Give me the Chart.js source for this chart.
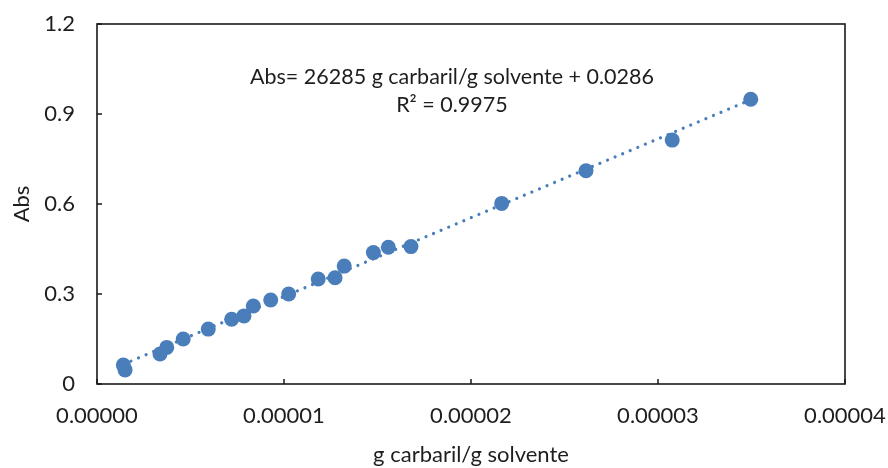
<!DOCTYPE html>
<html>
<head>
<meta charset="utf-8">
<script src="https://cdn.jsdelivr.net/npm/chart.js@4.4.1/dist/chart.umd.min.js"></script>
<style>
  html, body { margin: 0; padding: 0; background: #fff; }
  #wrap { width: 888px; height: 468px; }
</style>
</head>
<body>
<div id="wrap"><canvas id="chart" width="888" height="468"></canvas></div>
<script>
// Dane pomiarów (g carbaril / g solvente vs Abs)
const concentrations = [
  1.41e-6, 1.50e-6, 3.37e-6, 3.73e-6, 4.61e-6, 5.95e-6, 7.20e-6, 7.86e-6,
  8.36e-6, 9.29e-6, 1.025e-5, 1.183e-5, 1.273e-5, 1.322e-5, 1.478e-5,
  1.558e-5, 1.679e-5, 2.164e-5, 2.615e-5, 3.076e-5, 3.496e-5
];
const absorbances = [
  0.063, 0.047, 0.100, 0.122, 0.150, 0.183, 0.216, 0.227,
  0.260, 0.280, 0.300, 0.350, 0.354, 0.393, 0.438,
  0.456, 0.458, 0.602, 0.711, 0.813, 0.949
];
const xTicks = [0, 0.00001, 0.00002, 0.00003, 0.00004];
const yTicks = [0, 0.3, 0.6, 0.9, 1.2];

// Linia trendu
const slope = 26285;
const intercept = 0.0286;
const equationLines = ['Abs= 26285 g carbaril/g solvente + 0.0286', 'R\u00B2 = 0.9975'];

const BLUE = '#4a7ebb';
const TEXT = '#1e1e1e';
const FONT = 'Lato, "Open Sans", sans-serif';

const xMin = Math.min(...concentrations);
const xMax = Math.max(...concentrations);
const trend = [
  { x: xMin, y: slope * xMin + intercept },
  { x: xMax, y: slope * xMax + intercept }
];

// Ramka, znaczniki osi i równanie
const framePlugin = {
  id: 'frame',
  afterDraw(chart) {
    const { ctx, chartArea: a, scales } = chart;
    ctx.save();
    ctx.strokeStyle = '#1a1a1a';
    ctx.lineWidth = 1.6;
    ctx.strokeRect(a.left, a.top, a.right - a.left, a.bottom - a.top);
    ctx.lineWidth = 1.5;
    ctx.beginPath();
    xTicks.forEach(v => {
      const px = scales.x.getPixelForValue(v);
      ctx.moveTo(px, a.bottom);
      ctx.lineTo(px, a.bottom - 5);
    });
    yTicks.forEach(v => {
      const py = scales.y.getPixelForValue(v);
      ctx.moveTo(a.left, py);
      ctx.lineTo(a.left + 5, py);
    });
    ctx.stroke();

    ctx.fillStyle = TEXT;
    ctx.font = '21.5px ' + FONT;
    ctx.textAlign = 'center';
    ctx.textBaseline = 'middle';
    const cx = scales.x.getPixelForValue(0.00001898);
    ctx.fillText(equationLines[0], cx, scales.y.getPixelForValue(1.023));
    ctx.fillText(equationLines[1], cx, scales.y.getPixelForValue(0.93));
    ctx.restore();
  }
};

new Chart(document.getElementById('chart').getContext('2d'), {
  type: 'scatter',
  data: {
    datasets: [
      {
        label: 'Abs',
        data: concentrations.map((c, i) => ({ x: c, y: absorbances[i] })),
        backgroundColor: BLUE,
        borderColor: BLUE,
        borderWidth: 0,
        pointRadius: 7.5,
        pointHoverRadius: 7.5,
        order: 2
      },
      {
        label: 'Trend',
        type: 'line',
        data: trend,
        showLine: true,
        borderColor: BLUE,
        borderWidth: 3.2,
        borderDash: [0.01, 8.2],
        borderCapStyle: 'round',
        pointRadius: 0,
        fill: false,
        order: 1
      }
    ]
  },
  options: {
    responsive: false,
    animation: false,
    layout: { padding: { top: 24, right: 43, left: 0, bottom: 0 } },
    plugins: {
      legend: { display: false },
      tooltip: { enabled: false }
    },
    scales: {
      x: {
        type: 'linear',
        min: 0,
        max: 0.00004,
        afterFit(scale) {
          scale.height = 84;
          scale.paddingLeft = 0;
          scale.paddingRight = 0;
        },
        afterBuildTicks(scale) { scale.ticks = xTicks.map(v => ({ value: v })); },
        grid: { display: false, drawTicks: false },
        border: { display: false },
        ticks: {
          padding: 19,
          color: TEXT,
          font: { family: FONT, size: 22 },
          maxRotation: 0,
          callback: v => v.toFixed(5)
        },
        title: {
          display: true,
          text: 'g carbaril/g solvente',
          color: TEXT,
          font: { family: FONT, size: 22 },
          padding: { top: 10, bottom: 0 }
        }
      },
      y: {
        type: 'linear',
        min: 0,
        max: 1.2,
        afterFit(scale) {
          scale.width = 97;
          scale.paddingTop = 0;
          scale.paddingBottom = 0;
        },
        afterBuildTicks(scale) { scale.ticks = yTicks.map(v => ({ value: v })); },
        grid: { display: false, drawTicks: false },
        border: { display: false },
        ticks: {
          padding: 22,
          color: TEXT,
          font: { family: FONT, size: 22 },
          callback: v => (v === 0 ? '0' : String(v))
        },
        title: {
          display: true,
          text: 'Abs',
          color: TEXT,
          font: { family: FONT, size: 22 },
          padding: { top: 9, bottom: 0 }
        }
      }
    }
  },
  plugins: [framePlugin]
});
</script>
</body>
</html>
